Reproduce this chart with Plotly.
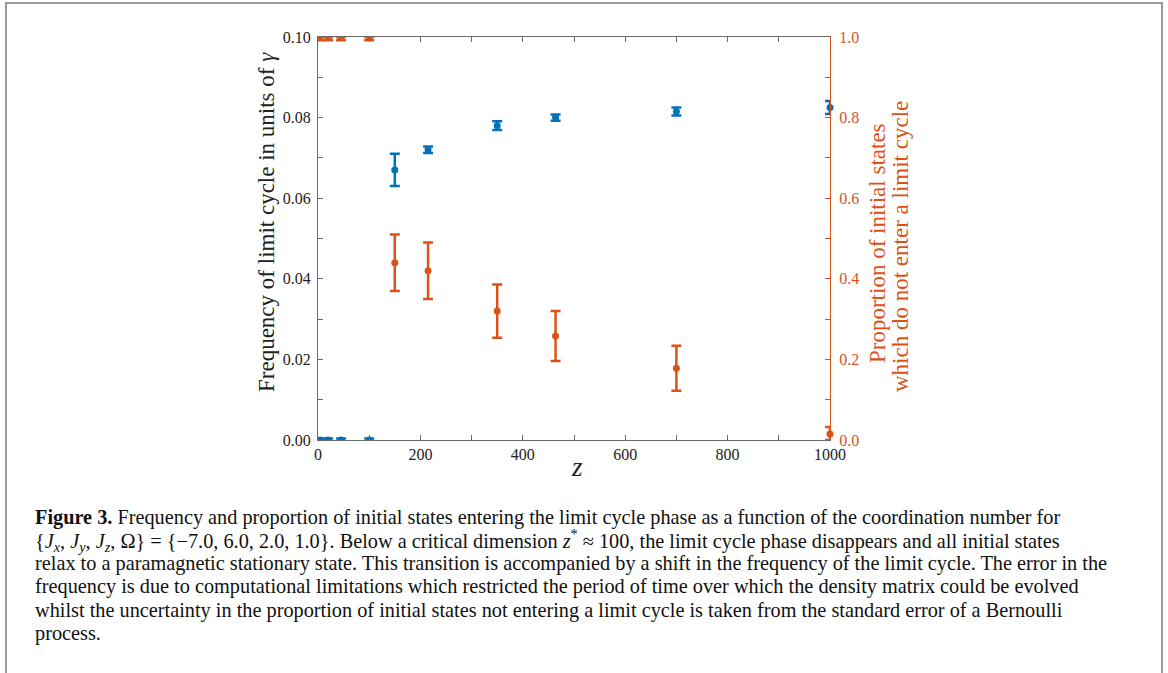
import plotly.graph_objects as go

# ---- data ----
z_vals = [4, 20, 45, 100, 150, 215, 350, 464, 700, 1000]
freq = [0.0, 0.0, 0.0, 0.0, 0.067, 0.072, 0.078, 0.080, 0.0815, 0.0825]
freq_err = [0.0004, 0.0004, 0.0004, 0.0004, 0.004, 0.0008, 0.0011, 0.0008, 0.001, 0.0016]
prop = [1.0, 1.0, 1.0, 1.0, 0.44, 0.42, 0.32, 0.258, 0.178, 0.015]
prop_err_plus = [0.0, 0.0, 0.0, 0.0, 0.07, 0.07, 0.066, 0.062, 0.056, 0.017]
prop_err_minus = [0.008, 0.008, 0.008, 0.008, 0.07, 0.07, 0.066, 0.062, 0.056, 0.015]

x_ticks = [0, 200, 400, 600, 800, 1000]
y_ticks = [0.0, 0.02, 0.04, 0.06, 0.08, 0.10]
y2_ticks = [0.0, 0.2, 0.4, 0.6, 0.8, 1.0]

caption_lines = [
    "<b>Figure 3.</b> Frequency and proportion of initial states entering the limit cycle phase as a function of the coordination number for",
    "{<i>J<sub>x</sub></i>, <i>J<sub>y</sub></i>, <i>J<sub>z</sub></i>, Ω} = {−7.0, 6.0, 2.0, 1.0}. Below a critical dimension <i>z</i><sup>*</sup> ≈ 100, the limit cycle phase disappears and all initial states",
    "relax to a paramagnetic stationary state. This transition is accompanied by a shift in the frequency of the limit cycle. The error in the",
    "frequency is due to computational limitations which restricted the period of time over which the density matrix could be evolved",
    "whilst the uncertainty in the proportion of initial states not entering a limit cycle is taken from the standard error of a Bernoulli",
    "process.",
]

BLUE = "#0072BD"
ORANGE = "#D95319"
SPINE = "#6b6b6b"
SERIF = "Liberation Serif, DejaVu Serif, serif"

W, H = 1168, 673
L, R, T, B = 318, 830, 37, 440


def px(xp):
    return (xp - L) / (R - L)


def py(yp):
    return (B - yp) / (B - T)


def subset(seq, idx):
    return [seq[i] for i in idx]


inner = [i for i, z in enumerate(z_vals) if z < 1000]
edge = [i for i, z in enumerate(z_vals) if z >= 1000]

fig = go.Figure()
for idx, clip in ((inner, True), (edge, False)):
    fig.add_trace(go.Scatter(
        x=subset(z_vals, idx), y=subset(freq, idx), mode="markers", cliponaxis=clip,
        marker=dict(color=BLUE, size=7),
        error_y=dict(type="data", array=subset(freq_err, idx), color=BLUE, thickness=2.5, width=5),
        yaxis="y", showlegend=False))
    fig.add_trace(go.Scatter(
        x=subset(z_vals, idx), y=subset(prop, idx), mode="markers", cliponaxis=clip,
        marker=dict(color=ORANGE, size=7),
        error_y=dict(type="data", array=subset(prop_err_plus, idx),
                     arrayminus=subset(prop_err_minus, idx),
                     symmetric=False, color=ORANGE, thickness=2.5, width=5),
        yaxis="y2", showlegend=False))

fig.update_layout(
    width=W, height=H,
    margin=dict(l=L, r=W - R, t=T, b=H - B, pad=0),
    paper_bgcolor="white", plot_bgcolor="white",
    font=dict(family=SERIF, size=16, color="black"),
    xaxis=dict(range=[0, 1000], tickvals=x_ticks, ticktext=[str(v) for v in x_ticks],
               ticks="inside", ticklen=5, tickwidth=1, tickcolor=SPINE,
               showline=True, linecolor=SPINE, linewidth=1.2, mirror="ticks",
               showgrid=False, zeroline=False,
               minor=dict(dtick=100, ticks="inside", ticklen=5, tickcolor=SPINE, showgrid=False),
               tickfont=dict(size=16, family=SERIF, color="#222")),
    yaxis=dict(range=[0, 0.1], tickvals=y_ticks, ticktext=["%.2f" % v for v in y_ticks],
               ticks="inside", ticklen=5, tickwidth=1, tickcolor=SPINE,
               showline=True, linecolor=SPINE, linewidth=1.2,
               showgrid=False, zeroline=False,
               minor=dict(dtick=0.01, ticks="inside", ticklen=5, tickcolor=SPINE, showgrid=False),
               tickfont=dict(size=16, family=SERIF, color="#222"), ticklabelstandoff=3),
    yaxis2=dict(range=[0, 1.0], tickvals=y2_ticks, ticktext=["%.1f" % v for v in y2_ticks],
                overlaying="y", side="right",
                ticks="inside", ticklen=5, tickwidth=1, tickcolor=ORANGE,
                showline=True, linecolor=ORANGE, linewidth=1.2,
                showgrid=False, zeroline=False,
                minor=dict(dtick=0.1, ticks="inside", ticklen=5, tickcolor=ORANGE, showgrid=False),
                tickfont=dict(size=16, family=SERIF, color=ORANGE), ticklabelstandoff=5),
)

annotations = [
    dict(text="Frequency of limit cycle in units of <i>γ</i>", x=px(266), y=py(222),
         textangle=-90, font=dict(size=23, family=SERIF, color="#222")),
    dict(text="Proportion of initial states", x=px(878), y=py(243),
         textangle=-90, font=dict(size=23, family=SERIF, color=ORANGE)),
    dict(text="which do not enter a limit cycle", x=px(900), y=py(247),
         textangle=-90, font=dict(size=23, family=SERIF, color=ORANGE)),
    dict(text="<i>z</i>", x=px(577), y=py(467), font=dict(size=27, family=SERIF, color="#222")),
]
for i, line in enumerate(caption_lines):
    annotations.append(dict(text=line, x=px(33), y=py(517 + 23.3 * i), xanchor="left",
                            font=dict(size=20.3, family=SERIF, color="#111")))
for a in annotations:
    a.update(xref="paper", yref="paper", showarrow=False)
    a.setdefault("xanchor", "center")
    a.setdefault("yanchor", "middle")
fig.update_layout(annotations=annotations)

fig.add_shape(type="rect", xref="paper", yref="paper",
              x0=px(6), x1=px(1162), y0=py(700), y1=py(3),
              line=dict(color="#9a9a9a", width=2), fillcolor="rgba(0,0,0,0)", layer="below")

fig.write_html("out.html")
